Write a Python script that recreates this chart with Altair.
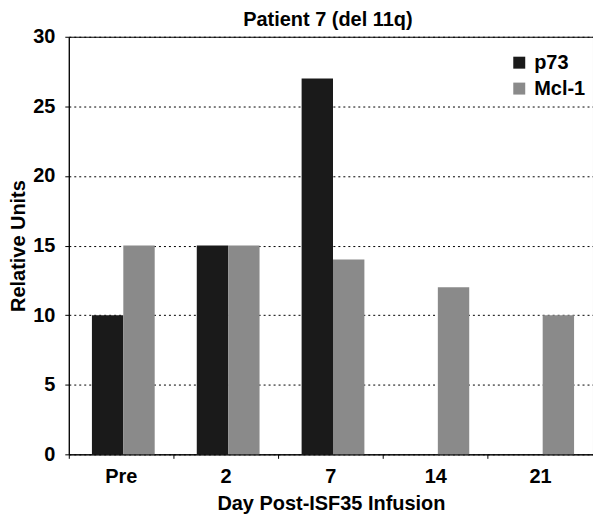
import altair as alt
import pandas as pd

title_text = "Patient 7 (del 11q)"
days = ["Pre", "2", "7", "14", "21"]
p73 = [10, 15, 27, 0, 0]
mcl1 = [15, 15, 14, 12, 10]
series = ["p73", "Mcl-1"]
colors = ["#1a1a1a", "#8a8a8a"]

rows = []
for d, a, b in zip(days, p73, mcl1):
    rows.append({"day": d, "series": "p73", "value": a})
    rows.append({"day": d, "series": "Mcl-1", "value": b})
df = pd.DataFrame(rows)

FONT = "Liberation Sans"

bars = alt.Chart(df).mark_bar().encode(
    x=alt.X("day:N", sort=days,
            scale=alt.Scale(paddingInner=0, paddingOuter=0),
            axis=alt.Axis(title="Day Post-ISF35 Infusion", labelAngle=0,
                          bandPosition=0,
                          domainColor="black", tickColor="black", tickSize=4,
                          labelFontSize=20, labelFontWeight="bold", labelColor="black",
                          labelPadding=8,
                          titleFontSize=20, titleFontWeight="bold", titleColor="black",
                          titlePadding=7, labelFont=FONT, titleFont=FONT)),
    xOffset=alt.XOffset("series:N", sort=series,
                        scale=alt.Scale(paddingOuter=0.67, paddingInner=0, align=0.55)),
    y=alt.Y("value:Q",
            scale=alt.Scale(domain=[0, 30]),
            axis=alt.Axis(title="Relative Units", values=[0, 5, 10, 15, 20, 25, 30],
                          grid=True, gridDash=[2, 3], gridColor="black", gridOpacity=1,
                          domainColor="black", tickColor="black", tickSize=4,
                          labelFontSize=20, labelFontWeight="bold", labelColor="black",
                          titleFontSize=20, titleFontWeight="bold", titleColor="black",
                          labelPadding=10, titlePadding=4, labelFont=FONT, titleFont=FONT)),
    color=alt.Color("series:N", sort=series,
                    scale=alt.Scale(domain=series, range=colors),
                    legend=alt.Legend(title=None, orient="none", legendX=442, legendY=16,
                                      padding=0, symbolType="square", symbolSize=144,
                                      symbolStrokeWidth=0, labelOffset=5,
                                      labelFontSize=20, labelFontWeight="bold",
                                      labelFont=FONT, labelColor="black",
                                      rowPadding=6)),
)

title = alt.Chart(pd.DataFrame({"t": [title_text]})).mark_text(
    font=FONT, fontSize=20, fontWeight="bold", color="black",
    baseline="alphabetic", align="center",
).encode(
    text="t:N",
    x=alt.value(260),
    y=alt.value(-11),
)

chart = alt.layer(bars, title).properties(
    width=526, height=419,
    padding={"left": 61, "top": 28, "right": 0, "bottom": 59},
    autosize=alt.AutoSizeParams(type="none"),
).configure_view(stroke="black", strokeWidth=1)

chart.save("out.html", embed_options={"renderer": "svg", "actions": False})
